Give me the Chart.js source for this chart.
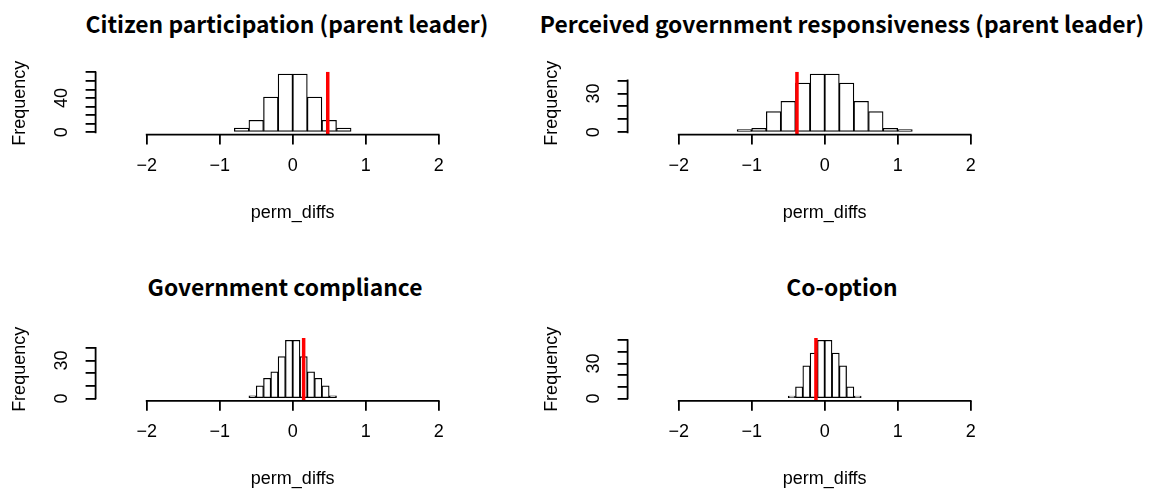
<!DOCTYPE html>
<html lang="en">
<head>
    <meta charset="UTF-8">
    <title>Permutation differences</title>
    <style>
        body {
            margin: 0;
            background: #fff;
            width: 1157px;
            height: 489px;
            position: relative;
            overflow: hidden;
        }
        canvas {
            position: absolute;
        }
        .title {
            position: absolute;
            font-family: "Noto Sans CJK SC", "Noto Sans", sans-serif;
            font-weight: bold;
            font-size: 22.8px;
            line-height: 30px;
            white-space: nowrap;
            transform: translateX(-50%);
            color: #000;
        }
    </style>
</head>
<body>

    <div class="title" style="left:287px; top:9px;">Citizen participation (parent leader)</div>
    <div class="title" style="left:842px; top:9px;">Perceived government responsiveness (parent leader)</div>
    <div class="title" style="left:285px; top:272px;">Government compliance</div>
    <div class="title" style="left:842px; top:272px;">Co-option</div>

    <canvas id="h1" width="500" height="230" style="left:0px; top:0px;"></canvas>
    <canvas id="h2" width="500" height="230" style="left:532px; top:0px;"></canvas>
    <canvas id="h3" width="500" height="230" style="left:0px; top:266px;"></canvas>
    <canvas id="h4" width="500" height="230" style="left:532px; top:266px;"></canvas>

    <script src="https://cdn.jsdelivr.net/npm/chart.js"></script>
    <script>
        // shared x axis
        const xTicks = [-2, -1, 0, 1, 2];
        const xRange = [-2.7, 2.7];

        // Citizen participation (parent leader)
        const breaks1 = [-0.8, -0.6, -0.4, -0.2, 0, 0.2, 0.4, 0.6, 0.8];
        const counts1 = [5, 14, 41, 68, 68, 41, 14, 5];
        const observed1 = 0.48;
        const yTicks1 = [0, 10, 20, 30, 40, 50, 60, 70];
        const yLabels1 = [0, 40];

        // Perceived government responsiveness (parent leader)
        const breaks2 = [-1.2, -1.0, -0.8, -0.6, -0.4, -0.2, 0, 0.2, 0.4, 0.6, 0.8, 1.0, 1.2];
        const counts2 = [2, 3, 16, 24, 38, 45, 45, 38, 24, 16, 3, 2];
        const observed2 = -0.38;
        const yTicks2 = [0, 10, 20, 30, 40];
        const yLabels2 = [0, 30];

        // Government compliance
        const breaks3 = [-0.6, -0.5, -0.4, -0.3, -0.2, -0.1, 0, 0.1, 0.2, 0.3, 0.4, 0.5, 0.6];
        const counts3 = [2, 10, 16, 21, 33, 46, 46, 33, 21, 16, 10, 2];
        const observed3 = 0.15;
        const yTicks3 = [0, 10, 20, 30, 40];
        const yLabels3 = [0, 30];

        // Co-option
        const breaks4 = [-0.5, -0.4, -0.3, -0.2, -0.1, 0, 0.1, 0.2, 0.3, 0.4, 0.5];
        const counts4 = [2, 10, 28, 39, 50, 50, 39, 28, 10, 2];
        const observed4 = -0.12;
        const yTicks4 = [0, 10, 20, 30, 40, 50];
        const yLabels4 = [0, 30];

        // layout (pixels inside each canvas)
        const Y_AXIS_W = 95.6;
        const PLOT_W = 394.2;
        const PLOT_H = 62.9;
        const X_AXIS_H = 90;
        const LINE_W = 1.8;

        const axisFont = { family: '"Liberation Sans", Arial, sans-serif', size: 18 };

        function fmt(v) {
            return v < 0 ? '\u2212' + Math.abs(v) : String(v);
        }

        // R style axis lines: only from first to last tick
        const rAxes = {
            id: 'rAxes',
            afterDraw(chart, args, opts) {
                const { ctx, chartArea, scales: { x, y } } = chart;
                ctx.save();
                ctx.strokeStyle = '#000';
                ctx.lineWidth = LINE_W;
                ctx.lineCap = 'square';
                ctx.beginPath();
                ctx.moveTo(x.getPixelForValue(xTicks[0]), chartArea.bottom);
                ctx.lineTo(x.getPixelForValue(xTicks[xTicks.length - 1]), chartArea.bottom);
                ctx.moveTo(chartArea.left, y.getPixelForValue(opts.yTicks[0]));
                ctx.lineTo(chartArea.left, y.getPixelForValue(opts.yTicks[opts.yTicks.length - 1]));
                ctx.stroke();
                ctx.restore();
            }
        };

        function histogram(id, breaks, counts, observed, yTicks, yLabels, padTop) {
            const canvas = document.getElementById(id);
            const bars = counts.map((c, i) => ({ x: (breaks[i] + breaks[i + 1]) / 2, y: c }));
            const ymax = Math.max(...counts);
            const yMin = -0.04 * ymax;
            const yMax = 1.04 * ymax;

            return new Chart(canvas.getContext('2d'), {
                type: 'bar',
                data: {
                    datasets: [
                        {
                            type: 'bar',
                            data: bars,
                            backgroundColor: '#fff',
                            borderColor: '#000',
                            borderWidth: 1.25,
                            borderSkipped: false,
                            barPercentage: 1,
                            categoryPercentage: 1,
                            order: 1
                        },
                        {
                            type: 'line',
                            data: [{ x: observed, y: yMin }, { x: observed, y: yMax }],
                            borderColor: '#ff0000',
                            borderWidth: 3.5,
                            pointRadius: 0,
                            fill: false,
                            order: 0
                        }
                    ]
                },
                options: {
                    responsive: false,
                    animation: false,
                    layout: {
                        padding: {
                            left: 0,
                            top: padTop,
                            right: canvas.width - Y_AXIS_W - PLOT_W,
                            bottom: canvas.height - padTop - PLOT_H - X_AXIS_H
                        }
                    },
                    plugins: {
                        legend: { display: false },
                        tooltip: { enabled: false },
                        rAxes: { yTicks: yTicks }
                    },
                    scales: {
                        x: {
                            type: 'linear',
                            min: xRange[0],
                            max: xRange[1],
                            offset: false,
                            afterBuildTicks: s => { s.ticks = xTicks.map(v => ({ value: v })); },
                            afterFit: s => { s.height = X_AXIS_H; },
                            ticks: {
                                font: axisFont,
                                color: '#000',
                                padding: 10.6,
                                autoSkip: false,
                                maxRotation: 0,
                                callback: v => fmt(v)
                            },
                            grid: {
                                offset: false,
                                drawOnChartArea: false,
                                drawTicks: true,
                                tickLength: 10,
                                color: '#000',
                                lineWidth: LINE_W
                            },
                            border: { display: false },
                            title: {
                                display: true,
                                text: 'perm_diffs',
                                font: axisFont,
                                color: '#000',
                                padding: { top: 0, bottom: 0.8 }
                            }
                        },
                        y: {
                            type: 'linear',
                            min: yMin,
                            max: yMax,
                            afterBuildTicks: s => { s.ticks = yTicks.map(v => ({ value: v })); },
                            afterFit: s => { s.width = Y_AXIS_W; },
                            ticks: {
                                font: axisFont,
                                color: '#000',
                                padding: 13.6,
                                autoSkip: false,
                                minRotation: 90,
                                maxRotation: 90,
                                crossAlign: 'center',
                                callback: v => yLabels.includes(v) ? String(v) : ''
                            },
                            grid: {
                                drawOnChartArea: false,
                                drawTicks: true,
                                tickLength: 10,
                                color: '#000',
                                lineWidth: LINE_W
                            },
                            border: { display: false },
                            title: {
                                display: true,
                                text: 'Frequency',
                                font: axisFont,
                                color: '#000',
                                padding: { top: 9.2, bottom: 0 }
                            }
                        }
                    }
                },
                plugins: [rAxes]
            });
        }

        histogram('h1', breaks1, counts1, observed1, yTicks1, yLabels1, 71.7);
        histogram('h2', breaks2, counts2, observed2, yTicks2, yLabels2, 71.7);
        histogram('h3', breaks3, counts3, observed3, yTicks3, yLabels3, 71.9);
        histogram('h4', breaks4, counts4, observed4, yTicks4, yLabels4, 71.9);
    </script>

</body>
</html>
